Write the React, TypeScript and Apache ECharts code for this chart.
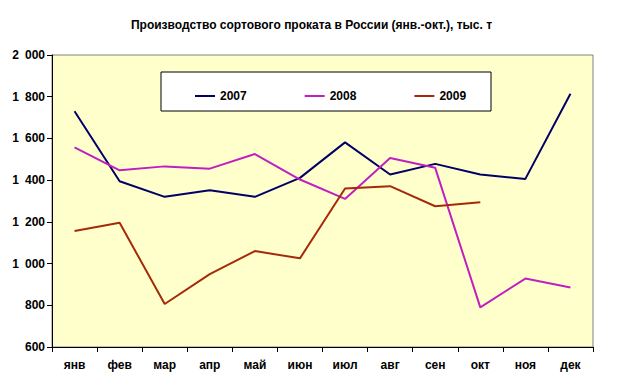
import React, { useEffect, useRef } from "react";
import * as echarts from "echarts";

const months = ["янв", "фев", "мар", "апр", "май", "июн", "июл", "авг", "сен", "окт", "ноя", "дек"];
const s2007 = [1730, 1395, 1320, 1352, 1320, 1411, 1581, 1427, 1478, 1427, 1406, 1814];
const s2008 = [1557, 1447, 1466, 1455, 1525, 1403, 1310, 1506, 1459, 790, 928, 885];
const s2009 = [1156, 1196, 806, 949, 1060, 1025, 1360, 1371, 1275, 1294];
const seriesNames = ["2007", "2008", "2009"];
const title = "Производство сортового проката в России (янв.-окт.), тыс. т";

const FONT = "'Liberation Sans', Arial, sans-serif";

export default function App() {
  const ref = useRef<HTMLDivElement>(null);
  useEffect(() => {
    if (!ref.current) return;
    const chart = echarts.init(ref.current, null, { renderer: "svg" });
    const colors = ["#000066", "#C020C0", "#A52A0A"];
    const data = [s2007, s2008, s2009];
    chart.setOption({
      animation: false,
      backgroundColor: "#ffffff",
      title: {
        text: title,
        left: "center",
        top: 14,
        textStyle: { fontFamily: FONT, fontSize: 12, fontWeight: "bold", color: "#000" },
      },
      graphic: [
        {
          type: "rect",
          shape: { x: 161, y: 72, width: 330, height: 39 },
          style: { fill: "#ffffff", stroke: "#000000", lineWidth: 1 },
          z: 10,
        },
      ],
      legend: {
        left: 190,
        top: 85,
        itemWidth: 20,
        itemHeight: 2,
        itemGap: 58,
        icon: "rect",
        z: 20,
        textStyle: { fontFamily: FONT, fontSize: 12, fontWeight: "bold", color: "#000" },
        data: seriesNames,
      },
      grid: {
        left: 52,
        right: 30,
        top: 55,
        bottom: 40,
        show: true,
        backgroundColor: "#FFFFCC",
        borderColor: "#808080",
        borderWidth: 1,
      },
      xAxis: {
        type: "category",
        data: months,
        boundaryGap: true,
        axisLine: { lineStyle: { color: "#000", width: 1 } },
        axisTick: { show: true, length: 5, lineStyle: { color: "#000" } },
        axisLabel: { fontFamily: FONT, fontSize: 12, fontWeight: "bold", color: "#000", margin: 12 },
        splitLine: { show: false },
      },
      yAxis: {
        type: "value",
        min: 600,
        max: 2000,
        interval: 200,
        axisLine: { show: true, lineStyle: { color: "#000", width: 1 } },
        axisTick: { show: true, length: 5, lineStyle: { color: "#000" } },
        axisLabel: {
          fontFamily: FONT,
          fontSize: 12,
          fontWeight: "bold",
          color: "#000",
          margin: 7,
          formatter: (v: number) => (v >= 1000 ? Math.floor(v / 1000) + "\u2002" + String(v % 1000).padStart(3, "0") : String(v)),
        },
        splitLine: { show: false },
      },
      series: seriesNames.map((n, i) => ({
        name: n,
        type: "line",
        data: data[i],
        symbol: "none",
        color: colors[i],
        lineStyle: { color: colors[i], width: 2 },
      })),
    });
    return () => chart.dispose();
  }, []);
  return <div ref={ref} style={{ position: "fixed", left: 0, top: 0, width: 623, height: 387 }} />;
}
